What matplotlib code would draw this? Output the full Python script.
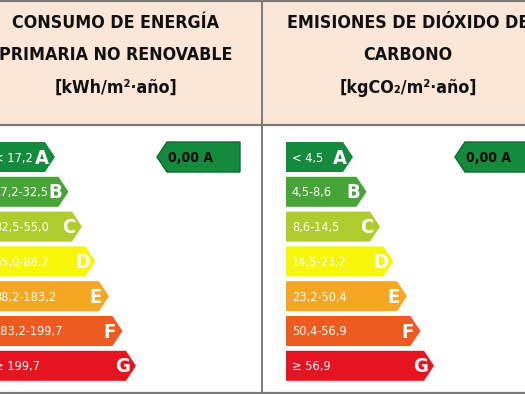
import matplotlib
matplotlib.use("Agg")
import matplotlib.pyplot as plt
from matplotlib.patches import Polygon, Rectangle

# ---- data ----
classes = ["A", "B", "C", "D", "E", "F", "G"]
energy_ranges = ["< 17,2", "17,2-32,5", "32,5-55,0", "55,0-88,2",
                 "88,2-183,2", "183,2-199,7", "≥ 199,7"]
co2_ranges = ["< 4,5", "4,5-8,6", "8,6-14,5", "14,5-23,2",
              "23,2-50,4", "50,4-56,9", "≥ 56,9"]
class_colors = ["#138a3c", "#47a436", "#afcb2d", "#f7f50a",
                "#f5a623", "#ee5b21", "#e5141e"]
energy_title = ["CONSUMO DE ENERGÍA", "PRIMARIA NO RENOVABLE", "[kWh/m²·año]"]
co2_title = ["EMISIONES DE DIÓXIDO DE", "CARBONO", "[kgCO₂/m²·año]"]
energy_value = "0,00"
energy_class = "A"
co2_value = "0,00"
co2_class = "A"

FONT = ["DejaVu Sans"]
STRETCH = "condensed"

# ---- layout ----
W, H = 525, 394
fig = plt.figure(figsize=(5.25, 3.94), dpi=100)
ax = fig.add_axes([0, 0, 1, 1])
ax.set_xlim(0, W)
ax.set_ylim(H, 0)
ax.axis("off")

header_bottom = 125
divider_x = 261.5
line_col = "#7a7a7a"

ax.add_patch(Rectangle((0, 0), W, header_bottom, facecolor="#fce6d8",
                       edgecolor="none", zorder=0))
ax.plot([0, W], [header_bottom, header_bottom], color=line_col, lw=1.6, zorder=5)
ax.plot([0, W], [0.8, 0.8], color=line_col, lw=1.6, zorder=5)
ax.plot([0, W], [392.5, 392.5], color=line_col, lw=1.6, zorder=5)
ax.plot([divider_x, divider_x], [0, H], color=line_col, lw=1.4, zorder=5)

row0, row_step, bar_h = 157, 34.8, 30
len0, len_step, tip_d = 67, 13.5, 10


def title(lines, cx):
    ys = [23, 55, 88]
    for t, y in zip(lines, ys):
        ax.text(cx, y, t, ha="center", va="center", fontsize=12.8,
                fontweight="bold", family=FONT, fontstretch=STRETCH,
                color="#111111")


def panel(x0, ranges, value, vclass):
    for i, (c, r, col) in enumerate(zip(classes, ranges, class_colors)):
        yc = row0 + row_step * i
        tip = x0 + len0 + len_step * i
        pts = [(x0, yc - bar_h / 2), (tip - tip_d, yc - bar_h / 2), (tip, yc),
               (tip - tip_d, yc + bar_h / 2), (x0, yc + bar_h / 2)]
        ax.add_patch(Polygon(pts, closed=True, facecolor=col,
                             edgecolor="none", zorder=2))
        ax.text(x0 + 6, yc + 1, r, ha="left", va="center", fontsize=9.2,
                family=FONT, fontstretch=STRETCH, color="white", zorder=3)
        ax.text(tip - 13, yc + 1, c, ha="center", va="center", fontsize=14.5,
                fontweight="bold", family=FONT, fontstretch=STRETCH,
                color="white", zorder=3)
    # rating indicator
    k = classes.index(vclass)
    yc = row0 + row_step * k
    t0 = x0 + 169
    pts = [(t0, yc), (t0 + tip_d, yc - bar_h / 2), (t0 + 83, yc - bar_h / 2),
           (t0 + 83, yc + bar_h / 2), (t0 + tip_d, yc + bar_h / 2)]
    ax.add_patch(Polygon(pts, closed=True, facecolor="#148a3d",
                         edgecolor="#0b6b2c", lw=1.0, zorder=2))
    ax.text(t0 + 34, yc + 1, f"{value} {vclass}", ha="center", va="center",
            fontsize=10, fontweight="bold", family=FONT, fontstretch=STRETCH,
            color="#0a0a0a", zorder=3)


title(energy_title, 116)
title(co2_title, 408)
panel(-12, energy_ranges, energy_value, energy_class)
panel(286, co2_ranges, co2_value, co2_class)

fig.savefig("out.png", dpi=100, facecolor="white")
